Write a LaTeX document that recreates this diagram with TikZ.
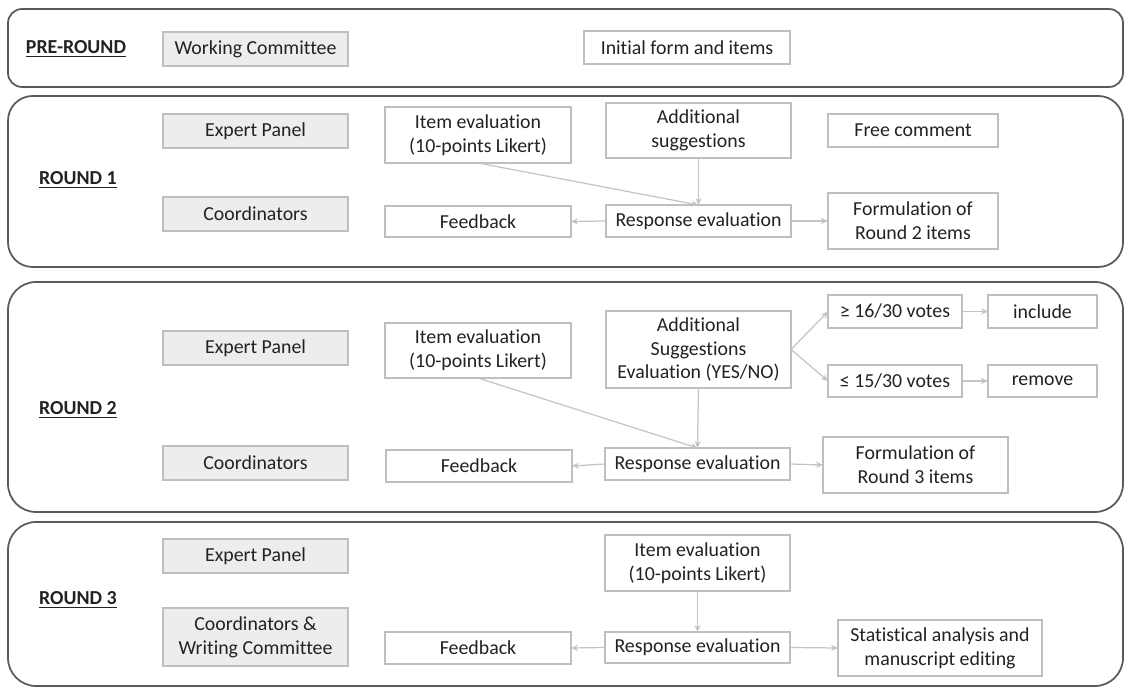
\documentclass[tikz,border=0pt]{standalone}
\usepackage{fontspec}
\setmainfont{Carlito}[Ligatures=NoCommon]
\usetikzlibrary{arrows.meta}
\definecolor{panelc}{HTML}{5A5A5A}
\definecolor{boxc}{HTML}{BFBFBF}
\definecolor{fillc}{HTML}{EDEDED}
\definecolor{linec}{HTML}{C4C4C4}
\definecolor{txtc}{HTML}{222222}
\newcommand\bx[7]{\node[#6, minimum width={(#4-#2)*0.02cm}, minimum height={(#5-#3)*0.02cm}] (#1) at ({(#2+#4)/2},{(#3+#5)/2}) {#7};}
\tikzset{
  panelbox/.style={draw=panelc, line width=1pt, rounded corners=#1},
  wbox/.style={draw=boxc, line width=0.7pt, fill=white, inner sep=0pt, outer sep=0pt, align=center, text=txtc, font=\fontsize{11.3}{13.6}\selectfont},
  gbox/.style={wbox, fill=fillc},
  lbl/.style={font=\bfseries\fontsize{11.3}{13.6}\selectfont, text=txtc},
  conn/.style={draw=linec, line width=0.7pt, -{Stealth[length=4pt,width=3.5pt]}}
}
\begin{document}
\begin{tikzpicture}[x=0.02cm,y=-0.02cm]
\useasboundingbox (0,0) rectangle (1126,688);
% panels
\draw[panelbox=8pt] (8,9) rectangle (1123,87);
\draw[panelbox=14pt] (8,96) rectangle (1123,267);
\draw[panelbox=16pt] (8,282) rectangle (1123,512);
\draw[panelbox=16pt] (8,522) rectangle (1123,686);
% pre-round
\node[lbl] (lpre) at (76,49) {\underline{PRE-ROUND}};
\bx{wc}{163}{32}{348}{66}{gbox}{Working Committee}
\bx{init}{584}{31}{790}{64}{wbox}{Initial form and items}
% round 1
\node[lbl] (lr1) at (78,180) {\underline{ROUND 1}};
\bx{ep1}{163}{114}{348}{148}{gbox}{Expert Panel}
\bx{co1}{163}{197}{348}{231}{gbox}{Coordinators}
\bx{ie1}{385}{107}{571}{163}{wbox}{Item evaluation\\(10-points Likert)}
\bx{as1}{606}{103}{791}{158}{wbox}{Additional\\suggestions}
\bx{fc1}{828}{114}{998}{147}{wbox}{Free comment}
\bx{fb1}{385}{206}{571}{237}{wbox}{Feedback}
\bx{re1}{606}{205}{791}{237}{wbox}{Response evaluation}
\bx{fo1}{828}{193}{998}{249}{wbox}{Formulation of\\Round 2 items}
\draw[conn] (ie1.south) -- (re1.north);
\draw[conn] (as1.south) -- (re1.north);
\draw[conn] (re1.west) -- (fb1.east);
\draw[conn] (re1.east) -- (fo1.west);
% round 2
\node[lbl] (lr2) at (78,410) {\underline{ROUND 2}};
\bx{ep2}{163}{331}{348}{365}{gbox}{Expert Panel}
\bx{co2}{163}{446}{348}{480}{gbox}{Coordinators}
\bx{ie2}{385}{323}{571}{378}{wbox}{Item evaluation\\(10-points Likert)}
\bx{as2}{606}{311}{791}{388}{wbox}{Additional\\Suggestions\\Evaluation (YES/NO)}
\bx{v16}{828}{295}{962}{328}{wbox}{≥ 16/30 votes}
\bx{inc}{988}{295}{1097}{328}{wbox}{include}
\bx{v15}{828}{365}{962}{397}{wbox}{≤ 15/30 votes}
\bx{rem}{988}{365}{1097}{397}{wbox}{remove}
\bx{fb2}{386}{450}{572}{482}{wbox}{Feedback}
\bx{re2}{605}{448}{790}{480}{wbox}{Response evaluation}
\bx{fo2}{823}{437}{1008}{493}{wbox}{Formulation of\\Round 3 items}
\draw[conn] (as2.east) -- (v16.west);
\draw[conn] (as2.east) -- (v15.west);
\draw[conn] (v16.east) -- (inc.west);
\draw[conn] (v15.east) -- (rem.west);
\draw[conn] (ie2.south) -- (re2.north);
\draw[conn] (as2.south) -- (re2.north);
\draw[conn] (re2.west) -- (fb2.east);
\draw[conn] (re2.east) -- (fo2.west);
% round 3
\node[lbl] (lr3) at (78,600) {\underline{ROUND 3}};
\bx{ep3}{163}{539}{348}{573}{gbox}{Expert Panel}
\bx{co3}{163}{608}{348}{666}{gbox}{Coordinators \&\\Writing Committee}
\bx{ie3}{605}{535}{790}{591}{wbox}{Item evaluation\\(10-points Likert)}
\bx{fb3}{385}{632}{571}{664}{wbox}{Feedback}
\bx{re3}{605}{632}{790}{663}{wbox}{Response evaluation}
\bx{sa3}{838}{620}{1042}{676}{wbox}{Statistical analysis and\\manuscript editing}
\draw[conn] (ie3.south) -- (re3.north);
\draw[conn] (re3.west) -- (fb3.east);
\draw[conn] (re3.east) -- (sa3.west);
\end{tikzpicture}
\end{document}
